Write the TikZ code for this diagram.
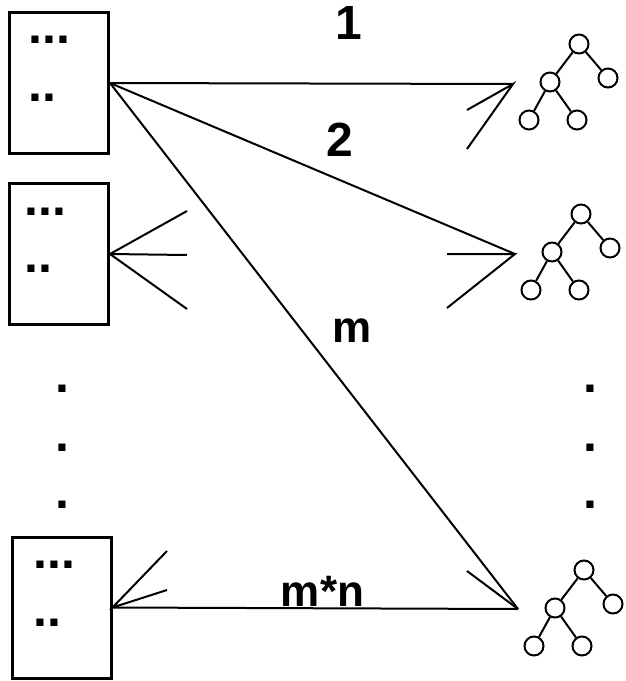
\documentclass[tikz,border=0pt]{standalone}
\usepackage{fontspec}
\setmainfont{Liberation Sans}
\begin{document}
\begin{tikzpicture}[x=1pt,y=-1pt,
  box/.style={draw,line width=3pt,minimum width=99pt,minimum height=141pt,inner sep=0pt},
  dots/.style={font=\fontsize{50}{60}\bfseries\selectfont,inner sep=0pt,anchor=base west},
  lbl/.style={font=\fontsize{44}{52}\bfseries\selectfont,inner sep=0pt},
  num/.style={font=\fontsize{48}{56}\bfseries\selectfont,inner sep=0pt},
  link/.style={line width=2pt},
  vn/.style={draw,circle,line width=2pt,minimum size=19pt,inner sep=0pt},
  tree/.pic={
    \node[vn] (-r) at (0,0) {};
    \node[vn] (-a) at (-29,38) {};
    \node[vn] (-b) at (29,34) {};
    \node[vn] (-c) at (-50,76) {};
    \node[vn] (-d) at (-2,76) {};
    \draw[line width=2pt] (-r) -- (-a) (-r) -- (-b) (-a) -- (-c) (-a) -- (-d);
  }]
\useasboundingbox (0,0) rectangle (625,681);

% tables on the left
\node[box] (b1) at (59,83) {};
\node[box] (b2) at (59,254) {};
\node[box] (b3) at (61.5,607.5) {};
\node[dots] (b1x) at (28.5,43) {...};
\node[dots] (b1y) at (28.5,101) {..};
\node[dots] (b2x) at (24.5,215) {...};
\node[dots] (b2y) at (24.5,272) {..};
\node[dots] (b3x) at (33.5,568) {...};
\node[dots] (b3y) at (33.5,626) {..};

% vertical ellipsis marks
\node[dots] (ld1) at (55.5,392) {.};
\node[dots] (ld2) at (55.5,451) {.};
\node[dots] (ld3) at (55.5,508) {.};
\node[dots] (rd1) at (583,392) {.};
\node[dots] (rd2) at (583,451) {.};
\node[dots] (rd3) at (583,508) {.};

% trees on the right
\pic (t1) at (579,44) {tree};
\pic (t2) at (581,214) {tree};
\pic (t3) at (584,570) {tree};
\coordinate (e1) at (513,84);
\coordinate (e2) at (515,254);
\coordinate (e3) at (518,609);

% crow's feet ends
\coordinate (f1a) at (467,110);
\coordinate (f1b) at (467,149);
\coordinate (f2a) at (447,254);
\coordinate (f2b) at (447,308);
\coordinate (f3a) at (467,571);
\coordinate (g2a) at (187,211);
\coordinate (g2b) at (187,255);
\coordinate (g2c) at (187,309);
\coordinate (g3a) at (167,551);
\coordinate (g3b) at (167,590);

% relationships
\draw[link] (b1.east) -- (e1);
\draw[link] (b1.east) -- (e2);
\draw[link] (b1.east) -- (e3);
\draw[link] (b3.east) -- (e3);
\draw[link] (f1a) -- (e1) -- (f1b);
\draw[link] (f2a) -- (e2) -- (f2b);
\draw[link] (f3a) -- (e3);
\draw[link] (g2a) -- (b2.east) -- (g2c);
\draw[link] (g2b) -- (b2.east);
\draw[link] (g3a) -- (b3.east) -- (g3b);

% labels
\node[num] (l1) at (349,22.5) {1};
\node[num] (l2) at (339.5,139.5) {2};
\node[lbl] (lm) at (352.5,330.5) {m};
\node[lbl] (lmn) at (322.5,591) {m*n};
\end{tikzpicture}
\end{document}
